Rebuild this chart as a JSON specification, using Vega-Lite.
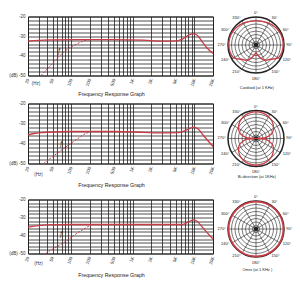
{
 "$schema": "https://vega.github.io/schema/vega-lite/v6.json",
 "padding": {"left": 5, "top": 10.5, "right": 0, "bottom": 0},
 "autosize": {"type": "pad"},
 "background": "white",
 "config": {
   "font": "Liberation Sans",
   "view": {"stroke": "#222", "strokeWidth": 1},
   "axis": {"labelFont": "Liberation Sans", "labelColor": "#333", "labelFontSize": 4.5, "grid": true, "gridColor": "#222", "gridOpacity": 1, "gridWidth": 0.8, "ticks": false, "domain": false, "labelOverlap": false, "labelFlush": false, "labelBound": false},
   "text": {"font": "Liberation Sans", "color": "#222"}
 },
 "datasets": {
   "resp": [
     {"row":1,"kind":"solid","f":20,"db":-32.6},{"row":1,"kind":"solid","f":25,"db":-32.3},{"row":1,"kind":"solid","f":35,"db":-32.0},{"row":1,"kind":"solid","f":50,"db":-31.9},{"row":1,"kind":"solid","f":100,"db":-31.8},{"row":1,"kind":"solid","f":500,"db":-31.8},{"row":1,"kind":"solid","f":1500,"db":-32.0},{"row":1,"kind":"solid","f":2800,"db":-32.5},{"row":1,"kind":"solid","f":4600,"db":-32.5},{"row":1,"kind":"solid","f":6400,"db":-31.5},{"row":1,"kind":"solid","f":8100,"db":-29.4},{"row":1,"kind":"solid","f":9700,"db":-28.8},{"row":1,"kind":"solid","f":11200,"db":-29.6},{"row":1,"kind":"solid","f":13500,"db":-33},{"row":1,"kind":"solid","f":16000,"db":-36},{"row":1,"kind":"solid","f":20000,"db":-38.8},
     {"row":1,"kind":"dash","f":32.5,"db":-50},{"row":1,"kind":"dash","f":41,"db":-46.7},{"row":1,"kind":"dash","f":53,"db":-43},{"row":1,"kind":"dash","f":64,"db":-40.3},{"row":1,"kind":"dash","f":77,"db":-37.9},{"row":1,"kind":"dash","f":99,"db":-35.6},{"row":1,"kind":"dash","f":127,"db":-33.8},{"row":1,"kind":"dash","f":162,"db":-32.4},{"row":1,"kind":"dash","f":197,"db":-31.8},
     {"row":2,"kind":"solid","f":20,"db":-35.7},{"row":2,"kind":"solid","f":25,"db":-35.0},{"row":2,"kind":"solid","f":35,"db":-34.5},{"row":2,"kind":"solid","f":60,"db":-34.2},{"row":2,"kind":"solid","f":100,"db":-34.0},{"row":2,"kind":"solid","f":500,"db":-34.0},{"row":2,"kind":"solid","f":1500,"db":-34.4},{"row":2,"kind":"solid","f":3000,"db":-34.7},{"row":2,"kind":"solid","f":5500,"db":-34.6},{"row":2,"kind":"solid","f":7500,"db":-33.2},{"row":2,"kind":"solid","f":9700,"db":-31.8},{"row":2,"kind":"solid","f":11500,"db":-32.8},{"row":2,"kind":"solid","f":14000,"db":-36},{"row":2,"kind":"solid","f":20000,"db":-41.5},
     {"row":2,"kind":"dash","f":36,"db":-50},{"row":2,"kind":"dash","f":46,"db":-47.5},{"row":2,"kind":"dash","f":63,"db":-44.3},{"row":2,"kind":"dash","f":86,"db":-41.3},{"row":2,"kind":"dash","f":125,"db":-37.8},{"row":2,"kind":"dash","f":160,"db":-35.5},{"row":2,"kind":"dash","f":200,"db":-34.2},
     {"row":3,"kind":"solid","f":20,"db":-35.4},{"row":3,"kind":"solid","f":25,"db":-34.8},{"row":3,"kind":"solid","f":40,"db":-34.1},{"row":3,"kind":"solid","f":100,"db":-33.9},{"row":3,"kind":"solid","f":1000,"db":-33.9},{"row":3,"kind":"solid","f":6400,"db":-33.9},{"row":3,"kind":"solid","f":8100,"db":-32.3},{"row":3,"kind":"solid","f":9700,"db":-31.3},{"row":3,"kind":"solid","f":11200,"db":-32.2},{"row":3,"kind":"solid","f":13500,"db":-35.5},{"row":3,"kind":"solid","f":20000,"db":-42},
     {"row":3,"kind":"dash","f":39,"db":-50},{"row":3,"kind":"dash","f":46,"db":-48.3},{"row":3,"kind":"dash","f":63,"db":-45.6},{"row":3,"kind":"dash","f":86,"db":-42.8},{"row":3,"kind":"dash","f":125,"db":-38.7},{"row":3,"kind":"dash","f":175,"db":-35.7},{"row":3,"kind":"dash","f":210,"db":-34.1}
   ],
   "notes": [
     {"row":1,"f":64,"db":-37.3,"t":"ƒ"},{"row":1,"f":27,"db":-54.5,"t":"(Hz)"},
     {"row":2,"f":68.5,"db":-40.2,"t":"ƒ"},{"row":2,"f":29.6,"db":-55.7,"t":"(Hz)"},
     {"row":3,"f":68.5,"db":-39.1,"t":"ƒ"},{"row":3,"f":29.6,"db":-56.1,"t":"(Hz)"}
   ],
   "rings": [{"r":0.125},{"r":0.25},{"r":0.375},{"r":0.5},{"r":0.625},{"r":0.75},{"r":0.875}],
   "spokes": [{"x":0,"y":1,"x2":0,"y2":-1},{"x":0.5,"y":0.866,"x2":-0.5,"y2":-0.866},{"x":0.866,"y":0.5,"x2":-0.866,"y2":-0.5},{"x":1,"y":0,"x2":-1,"y2":0},{"x":0.866,"y":-0.5,"x2":-0.866,"y2":0.5},{"x":0.5,"y":-0.866,"x2":-0.5,"y2":0.866}],
   "angles": [{"x":0,"y":1.13,"t":"0°"},{"x":0.55,"y":0.953,"t":"30°"},{"x":0.953,"y":0.55,"t":"60°"},{"x":1.08,"y":0,"t":"90°"},{"x":0.953,"y":-0.55,"t":"120°"},{"x":0.55,"y":-0.953,"t":"150°"},{"x":0,"y":-1.2,"t":"180°"},{"x":-0.55,"y":-0.953,"t":"210°"},{"x":-0.953,"y":-0.55,"t":"240°"},{"x":-1.08,"y":0,"t":"270°"},{"x":-0.953,"y":0.55,"t":"300°"},{"x":-0.55,"y":0.953,"t":"330°"}],
   "polar": [
     {"p":"card","i":0,"x":0,"y":0.86},{"p":"card","i":1,"x":0.225,"y":0.84},{"p":"card","i":2,"x":0.45,"y":0.779},{"p":"card","i":3,"x":0.658,"y":0.658},{"p":"card","i":4,"x":0.831,"y":0.48},{"p":"card","i":5,"x":0.937,"y":0.251},{"p":"card","i":6,"x":0.97,"y":0},{"p":"card","i":7,"x":0.927,"y":-0.248},{"p":"card","i":8,"x":0.797,"y":-0.46},{"p":"card","i":9,"x":0.509,"y":-0.509},{"p":"card","i":10,"x":0.315,"y":-0.546},{"p":"card","i":11,"x":0.171,"y":-0.47},{"p":"card","i":12,"x":0.0625,"y":-0.355},{"p":"card","i":13,"x":0,"y":-0.28},{"p":"card","i":14,"x":-0.0625,"y":-0.355},{"p":"card","i":15,"x":-0.171,"y":-0.47},{"p":"card","i":16,"x":-0.315,"y":-0.546},{"p":"card","i":17,"x":-0.509,"y":-0.509},{"p":"card","i":18,"x":-0.797,"y":-0.46},{"p":"card","i":19,"x":-0.927,"y":-0.248},{"p":"card","i":20,"x":-0.97,"y":0},{"p":"card","i":21,"x":-0.937,"y":0.251},{"p":"card","i":22,"x":-0.831,"y":0.48},{"p":"card","i":23,"x":-0.658,"y":0.658},{"p":"card","i":24,"x":-0.45,"y":0.779},{"p":"card","i":25,"x":-0.225,"y":0.84},
     {"p":"bi","i":0,"x":0,"y":0.95},{"p":"bi","i":1,"x":0.243,"y":0.908},{"p":"bi","i":2,"x":0.45,"y":0.779},{"p":"bi","i":3,"x":0.587,"y":0.587},{"p":"bi","i":4,"x":0.624,"y":0.36},{"p":"bi","i":5,"x":0.583,"y":0.212},{"p":"bi","i":6,"x":0.443,"y":0.078},{"p":"bi","i":7,"x":0.299,"y":0.026},{"p":"bi","i":8,"x":0,"y":0},{"p":"bi","i":9,"x":0.299,"y":-0.026},{"p":"bi","i":10,"x":0.443,"y":-0.078},{"p":"bi","i":11,"x":0.583,"y":-0.212},{"p":"bi","i":12,"x":0.624,"y":-0.36},{"p":"bi","i":13,"x":0.587,"y":-0.587},{"p":"bi","i":14,"x":0.45,"y":-0.779},{"p":"bi","i":15,"x":0.243,"y":-0.908},{"p":"bi","i":16,"x":0,"y":-0.95},{"p":"bi","i":17,"x":-0.243,"y":-0.908},{"p":"bi","i":18,"x":-0.45,"y":-0.779},{"p":"bi","i":19,"x":-0.587,"y":-0.587},{"p":"bi","i":20,"x":-0.624,"y":-0.36},{"p":"bi","i":21,"x":-0.583,"y":-0.212},{"p":"bi","i":22,"x":-0.443,"y":-0.078},{"p":"bi","i":23,"x":-0.299,"y":-0.026},{"p":"bi","i":24,"x":0,"y":0},{"p":"bi","i":25,"x":-0.299,"y":0.026},{"p":"bi","i":26,"x":-0.443,"y":0.078},{"p":"bi","i":27,"x":-0.583,"y":0.212},{"p":"bi","i":28,"x":-0.624,"y":0.36},{"p":"bi","i":29,"x":-0.587,"y":0.587},{"p":"bi","i":30,"x":-0.45,"y":0.779},{"p":"bi","i":31,"x":-0.243,"y":0.908}
   ]
 },
 "columns": 2,
 "spacing": {"row": 28, "column": 5},
 "bounds": "flush",
 "align": "each",
 "resolve": {"scale": {"radius": "independent", "x": "independent", "y": "independent"}},
 "concat": [
    {"width": 185, "height": 59,
     "encoding": {
      "x": {"field":"f","type":"quantitative","scale":{"type":"log","domain":[20,20000],"nice":false},
        "axis":{"values":[20,30,40,50,60,70,80,90,100,200,300,400,500,600,700,800,900,1000,2000,3000,4000,5000,6000,7000,8000,9000,10000,20000],"labelExpr":"indexof([20,50,100,200,500,1000,2000,5000,10000,20000], datum.value) >= 0 ? (datum.value >= 1000 ? (datum.value / 1000) + 'K' : datum.value + '') : ''","labelAngle":-70,"labelAlign":"right","labelBaseline":"middle","labelPadding":3,"title":"Frequency Response Graph","titleFontSize":5.3,"titleFontWeight":"normal","titleColor":"#222","titleX":83,"titleY":18,"titleAlign":"center","titleBaseline":"middle"}},
      "y": {"field":"db","type":"quantitative","scale":{"domain":[-50,-20],"nice":false,"zero":false},
        "axis":{"values":[-50,-48,-46,-44,-42,-40,-38,-36,-34,-32,-30,-28,-26,-24,-22,-20],"labelExpr":"datum.value % 10 == 0 ? (datum.value == -50 ? '(dB)   -50' : datum.value + '') : ''","labelPadding":3,"title":null}}
     },
     "layer": [
      {"data":{"name":"resp"},"transform":[{"filter":"datum.row == 1 && datum.kind == 'solid'"}],"mark":{"type":"line","color":"#c83c46","strokeWidth":1.3,"interpolate":"monotone"}},
      {"data":{"name":"resp"},"transform":[{"filter":"datum.row == 1 && datum.kind == 'dash'"}],"mark":{"type":"line","color":"#c83c46","strokeWidth":1,"strokeDash":[2,1.5],"interpolate":"monotone"}},
      {"data":{"name":"notes"},"transform":[{"filter":"datum.row == 1 && datum.t == 'ƒ'"}],"mark":{"type":"text","fontSize":6.5,"fontStyle":"italic","align":"center","baseline":"middle"},"encoding":{"text":{"field":"t"}}},
      {"data":{"name":"notes"},"transform":[{"filter":"datum.row == 1 && datum.t != 'ƒ'"}],"mark":{"type":"text","fontSize":4.5,"align":"center","baseline":"middle","color":"#333"},"encoding":{"text":{"field":"t"}}}
     ]},
    {"width": 76, "height": 59, "view": {"stroke": null},
     "layer": [
      {"data":{"name":"rings"},"mark":{"type":"arc","filled":false,"stroke":"#222","strokeWidth":0.6,"theta":0,"theta2":6.2832},"encoding":{"x":{"datum":0,"type":"quantitative","scale":{"domain":[-1.357,1.357],"nice":false,"zero":false},"axis":null},"y":{"datum":0,"type":"quantitative","scale":{"domain":[-1.089,1.018],"nice":false,"zero":false},"axis":null},"radius":{"field":"r","type":"quantitative","stack":null,"scale":{"type":"linear","domain":[0,1],"range":[0,28]}}}},
      {"data":{"values":[{"r":1}]},"mark":{"type":"arc","filled":false,"stroke":"#222","strokeWidth":1.5,"theta":0,"theta2":6.2832},"encoding":{"x":{"datum":0,"type":"quantitative","scale":{"domain":[-1.357,1.357],"nice":false,"zero":false},"axis":null},"y":{"datum":0,"type":"quantitative","scale":{"domain":[-1.089,1.018],"nice":false,"zero":false},"axis":null},"radius":{"field":"r","type":"quantitative","stack":null,"scale":{"type":"linear","domain":[0,1],"range":[0,28]}}}},
      {"data":{"name":"spokes"},"mark":{"type":"rule","stroke":"#222","strokeWidth":0.6},"encoding":{"x":{"field":"x","type":"quantitative","scale":{"domain":[-1.357,1.357],"nice":false,"zero":false},"axis":null},"y":{"field":"y","type":"quantitative","scale":{"domain":[-1.089,1.018],"nice":false,"zero":false},"axis":null},"x2":{"field":"x2"},"y2":{"field":"y2"}}},
      {"data":{"values":[{"r":0.08}]},"mark":{"type":"arc","color":"#222","theta":0,"theta2":6.2832},"encoding":{"x":{"datum":0,"type":"quantitative","scale":{"domain":[-1.357,1.357],"nice":false,"zero":false},"axis":null},"y":{"datum":0,"type":"quantitative","scale":{"domain":[-1.089,1.018],"nice":false,"zero":false},"axis":null},"radius":{"field":"r","type":"quantitative","stack":null,"scale":{"type":"linear","domain":[0,1],"range":[0,28]}}}},
      {"data":{"name":"polar"},"transform":[{"filter":"datum.p == 'card'"}],"mark":{"type":"line","color":"#c83c46","strokeWidth":1.3,"interpolate":"cardinal-closed"},"encoding":{"x":{"field":"x","type":"quantitative","scale":{"domain":[-1.357,1.357],"nice":false,"zero":false},"axis":null},"y":{"field":"y","type":"quantitative","scale":{"domain":[-1.089,1.018],"nice":false,"zero":false},"axis":null},"order":{"field":"i"}}},
      {"data":{"name":"angles"},"transform":[{"filter":"datum.x > 0.1"}],"mark":{"type":"text","fontSize":4,"align":"left","baseline":"middle"},"encoding":{"x":{"field":"x","type":"quantitative","scale":{"domain":[-1.357,1.357],"nice":false,"zero":false},"axis":null},"y":{"field":"y","type":"quantitative","scale":{"domain":[-1.089,1.018],"nice":false,"zero":false},"axis":null},"text":{"field":"t"}}},
      {"data":{"name":"angles"},"transform":[{"filter":"datum.x < -0.1"}],"mark":{"type":"text","fontSize":4,"align":"right","baseline":"middle"},"encoding":{"x":{"field":"x","type":"quantitative","scale":{"domain":[-1.357,1.357],"nice":false,"zero":false},"axis":null},"y":{"field":"y","type":"quantitative","scale":{"domain":[-1.089,1.018],"nice":false,"zero":false},"axis":null},"text":{"field":"t"}}},
      {"data":{"name":"angles"},"transform":[{"filter":"abs(datum.x) <= 0.1"}],"mark":{"type":"text","fontSize":4,"align":"center","baseline":"middle"},"encoding":{"x":{"field":"x","type":"quantitative","scale":{"domain":[-1.357,1.357],"nice":false,"zero":false},"axis":null},"y":{"field":"y","type":"quantitative","scale":{"domain":[-1.089,1.018],"nice":false,"zero":false},"axis":null},"text":{"field":"t"}}},
      {"data":{"values":[{"x":0.03,"y":-1.52,"t":"Cardioid (at 1 KHz)"}]},"mark":{"type":"text","fontSize":4,"align":"center","baseline":"middle"},"encoding":{"x":{"field":"x","type":"quantitative","scale":{"domain":[-1.357,1.357],"nice":false,"zero":false},"axis":null},"y":{"field":"y","type":"quantitative","scale":{"domain":[-1.089,1.018],"nice":false,"zero":false},"axis":null},"text":{"field":"t"}}}
     ]},
    {"width": 185, "height": 60,
     "encoding": {
      "x": {"field":"f","type":"quantitative","scale":{"type":"log","domain":[20,20000],"nice":false},
        "axis":{"values":[20,30,40,50,60,70,80,90,100,200,300,400,500,600,700,800,900,1000,2000,3000,4000,5000,6000,7000,8000,9000,10000,20000],"labelExpr":"indexof([20,50,100,200,500,1000,2000,5000,10000,20000], datum.value) >= 0 ? (datum.value >= 1000 ? (datum.value / 1000) + 'K' : datum.value + '') : ''","labelAngle":-70,"labelAlign":"right","labelBaseline":"middle","labelPadding":3,"title":"Frequency Response Graph","titleFontSize":5.3,"titleFontWeight":"normal","titleColor":"#222","titleX":83,"titleY":21,"titleAlign":"center","titleBaseline":"middle"}},
      "y": {"field":"db","type":"quantitative","scale":{"domain":[-50,-20],"nice":false,"zero":false},
        "axis":{"values":[-50,-48,-46,-44,-42,-40,-38,-36,-34,-32,-30,-28,-26,-24,-22,-20],"labelExpr":"datum.value % 10 == 0 ? (datum.value == -50 ? '(dB)   -50' : datum.value + '') : ''","labelPadding":3,"title":null}}
     },
     "layer": [
      {"data":{"name":"resp"},"transform":[{"filter":"datum.row == 2 && datum.kind == 'solid'"}],"mark":{"type":"line","color":"#c83c46","strokeWidth":1.3,"interpolate":"monotone"}},
      {"data":{"name":"resp"},"transform":[{"filter":"datum.row == 2 && datum.kind == 'dash'"}],"mark":{"type":"line","color":"#c83c46","strokeWidth":1,"strokeDash":[2,1.5],"interpolate":"monotone"}},
      {"data":{"name":"notes"},"transform":[{"filter":"datum.row == 2 && datum.t == 'ƒ'"}],"mark":{"type":"text","fontSize":6.5,"fontStyle":"italic","align":"center","baseline":"middle"},"encoding":{"text":{"field":"t"}}},
      {"data":{"name":"notes"},"transform":[{"filter":"datum.row == 2 && datum.t != 'ƒ'"}],"mark":{"type":"text","fontSize":4.5,"align":"center","baseline":"middle","color":"#333"},"encoding":{"text":{"field":"t"}}}
     ]},
    {"width": 76, "height": 68, "view": {"stroke": null},
     "layer": [
      {"data":{"name":"rings"},"mark":{"type":"arc","filled":false,"stroke":"#222","strokeWidth":0.6,"theta":0,"theta2":6.2832},"encoding":{"x":{"datum":0,"type":"quantitative","scale":{"domain":[-1.357,1.357],"nice":false,"zero":false},"axis":null},"y":{"datum":0,"type":"quantitative","scale":{"domain":[-1.179,1.25],"nice":false,"zero":false},"axis":null},"radius":{"field":"r","type":"quantitative","stack":null,"scale":{"type":"linear","domain":[0,1],"range":[0,28]}}}},
      {"data":{"values":[{"r":1}]},"mark":{"type":"arc","filled":false,"stroke":"#222","strokeWidth":1.5,"theta":0,"theta2":6.2832},"encoding":{"x":{"datum":0,"type":"quantitative","scale":{"domain":[-1.357,1.357],"nice":false,"zero":false},"axis":null},"y":{"datum":0,"type":"quantitative","scale":{"domain":[-1.179,1.25],"nice":false,"zero":false},"axis":null},"radius":{"field":"r","type":"quantitative","stack":null,"scale":{"type":"linear","domain":[0,1],"range":[0,28]}}}},
      {"data":{"name":"spokes"},"mark":{"type":"rule","stroke":"#222","strokeWidth":0.6},"encoding":{"x":{"field":"x","type":"quantitative","scale":{"domain":[-1.357,1.357],"nice":false,"zero":false},"axis":null},"y":{"field":"y","type":"quantitative","scale":{"domain":[-1.179,1.25],"nice":false,"zero":false},"axis":null},"x2":{"field":"x2"},"y2":{"field":"y2"}}},
      {"data":{"values":[{"r":0.08}]},"mark":{"type":"arc","color":"#222","theta":0,"theta2":6.2832},"encoding":{"x":{"datum":0,"type":"quantitative","scale":{"domain":[-1.357,1.357],"nice":false,"zero":false},"axis":null},"y":{"datum":0,"type":"quantitative","scale":{"domain":[-1.179,1.25],"nice":false,"zero":false},"axis":null},"radius":{"field":"r","type":"quantitative","stack":null,"scale":{"type":"linear","domain":[0,1],"range":[0,28]}}}},
      {"data":{"name":"polar"},"transform":[{"filter":"datum.p == 'bi'"}],"mark":{"type":"line","color":"#c83c46","strokeWidth":1.3,"interpolate":"cardinal-closed"},"encoding":{"x":{"field":"x","type":"quantitative","scale":{"domain":[-1.357,1.357],"nice":false,"zero":false},"axis":null},"y":{"field":"y","type":"quantitative","scale":{"domain":[-1.179,1.25],"nice":false,"zero":false},"axis":null},"order":{"field":"i"}}},
      {"data":{"name":"angles"},"transform":[{"filter":"datum.x > 0.1"}],"mark":{"type":"text","fontSize":4,"align":"left","baseline":"middle"},"encoding":{"x":{"field":"x","type":"quantitative","scale":{"domain":[-1.357,1.357],"nice":false,"zero":false},"axis":null},"y":{"field":"y","type":"quantitative","scale":{"domain":[-1.179,1.25],"nice":false,"zero":false},"axis":null},"text":{"field":"t"}}},
      {"data":{"name":"angles"},"transform":[{"filter":"datum.x < -0.1"}],"mark":{"type":"text","fontSize":4,"align":"right","baseline":"middle"},"encoding":{"x":{"field":"x","type":"quantitative","scale":{"domain":[-1.357,1.357],"nice":false,"zero":false},"axis":null},"y":{"field":"y","type":"quantitative","scale":{"domain":[-1.179,1.25],"nice":false,"zero":false},"axis":null},"text":{"field":"t"}}},
      {"data":{"name":"angles"},"transform":[{"filter":"abs(datum.x) <= 0.1"}],"mark":{"type":"text","fontSize":4,"align":"center","baseline":"middle"},"encoding":{"x":{"field":"x","type":"quantitative","scale":{"domain":[-1.357,1.357],"nice":false,"zero":false},"axis":null},"y":{"field":"y","type":"quantitative","scale":{"domain":[-1.179,1.25],"nice":false,"zero":false},"axis":null},"text":{"field":"t"}}},
      {"data":{"values":[{"x":0.03,"y":-1.36,"t":"Bi-direction (at 1KHz)"}]},"mark":{"type":"text","fontSize":4,"align":"center","baseline":"middle"},"encoding":{"x":{"field":"x","type":"quantitative","scale":{"domain":[-1.357,1.357],"nice":false,"zero":false},"axis":null},"y":{"field":"y","type":"quantitative","scale":{"domain":[-1.179,1.25],"nice":false,"zero":false},"axis":null},"text":{"field":"t"}}}
     ]},
    {"width": 185, "height": 54,
     "encoding": {
      "x": {"field":"f","type":"quantitative","scale":{"type":"log","domain":[20,20000],"nice":false},
        "axis":{"values":[20,30,40,50,60,70,80,90,100,200,300,400,500,600,700,800,900,1000,2000,3000,4000,5000,6000,7000,8000,9000,10000,20000],"labelExpr":"indexof([20,50,100,200,500,1000,2000,5000,10000,20000], datum.value) >= 0 ? (datum.value >= 1000 ? (datum.value / 1000) + 'K' : datum.value + '') : ''","labelAngle":-70,"labelAlign":"right","labelBaseline":"middle","labelPadding":3,"title":"Frequency Response Graph","titleFontSize":5.3,"titleFontWeight":"normal","titleColor":"#222","titleX":83,"titleY":21,"titleAlign":"center","titleBaseline":"middle"}},
      "y": {"field":"db","type":"quantitative","scale":{"domain":[-50,-20],"nice":false,"zero":false},
        "axis":{"values":[-50,-48,-46,-44,-42,-40,-38,-36,-34,-32,-30,-28,-26,-24,-22,-20],"labelExpr":"datum.value % 10 == 0 ? (datum.value == -50 ? '(dB)   -50' : datum.value + '') : ''","labelPadding":3,"title":null}}
     },
     "layer": [
      {"data":{"name":"resp"},"transform":[{"filter":"datum.row == 3 && datum.kind == 'solid'"}],"mark":{"type":"line","color":"#c83c46","strokeWidth":1.3,"interpolate":"monotone"}},
      {"data":{"name":"resp"},"transform":[{"filter":"datum.row == 3 && datum.kind == 'dash'"}],"mark":{"type":"line","color":"#c83c46","strokeWidth":1,"strokeDash":[2,1.5],"interpolate":"monotone"}},
      {"data":{"name":"notes"},"transform":[{"filter":"datum.row == 3 && datum.t == 'ƒ'"}],"mark":{"type":"text","fontSize":6.5,"fontStyle":"italic","align":"center","baseline":"middle"},"encoding":{"text":{"field":"t"}}},
      {"data":{"name":"notes"},"transform":[{"filter":"datum.row == 3 && datum.t != 'ƒ'"}],"mark":{"type":"text","fontSize":4.5,"align":"center","baseline":"middle","color":"#333"},"encoding":{"text":{"field":"t"}}}
     ]},
    {"width": 76, "height": 54, "view": {"stroke": null},
     "layer": [
      {"data":{"name":"rings"},"mark":{"type":"arc","filled":false,"stroke":"#222","strokeWidth":0.6,"theta":0,"theta2":6.2832},"encoding":{"x":{"datum":0,"type":"quantitative","scale":{"domain":[-1.357,1.357],"nice":false,"zero":false},"axis":null},"y":{"datum":0,"type":"quantitative","scale":{"domain":[-0.875,1.054],"nice":false,"zero":false},"axis":null},"radius":{"field":"r","type":"quantitative","stack":null,"scale":{"type":"linear","domain":[0,1],"range":[0,28]}}}},
      {"data":{"values":[{"r":1}]},"mark":{"type":"arc","filled":false,"stroke":"#222","strokeWidth":1.5,"theta":0,"theta2":6.2832},"encoding":{"x":{"datum":0,"type":"quantitative","scale":{"domain":[-1.357,1.357],"nice":false,"zero":false},"axis":null},"y":{"datum":0,"type":"quantitative","scale":{"domain":[-0.875,1.054],"nice":false,"zero":false},"axis":null},"radius":{"field":"r","type":"quantitative","stack":null,"scale":{"type":"linear","domain":[0,1],"range":[0,28]}}}},
      {"data":{"name":"spokes"},"mark":{"type":"rule","stroke":"#222","strokeWidth":0.6},"encoding":{"x":{"field":"x","type":"quantitative","scale":{"domain":[-1.357,1.357],"nice":false,"zero":false},"axis":null},"y":{"field":"y","type":"quantitative","scale":{"domain":[-0.875,1.054],"nice":false,"zero":false},"axis":null},"x2":{"field":"x2"},"y2":{"field":"y2"}}},
      {"data":{"values":[{"r":0.08}]},"mark":{"type":"arc","color":"#222","theta":0,"theta2":6.2832},"encoding":{"x":{"datum":0,"type":"quantitative","scale":{"domain":[-1.357,1.357],"nice":false,"zero":false},"axis":null},"y":{"datum":0,"type":"quantitative","scale":{"domain":[-0.875,1.054],"nice":false,"zero":false},"axis":null},"radius":{"field":"r","type":"quantitative","stack":null,"scale":{"type":"linear","domain":[0,1],"range":[0,28]}}}},
      {"data":{"values":[{"r":0.98}]},"mark":{"type":"arc","filled":false,"stroke":"#c83c46","strokeWidth":1.8,"theta":0,"theta2":6.2832},"encoding":{"x":{"datum":0,"type":"quantitative","scale":{"domain":[-1.357,1.357],"nice":false,"zero":false},"axis":null},"y":{"datum":0,"type":"quantitative","scale":{"domain":[-0.875,1.054],"nice":false,"zero":false},"axis":null},"radius":{"field":"r","type":"quantitative","stack":null,"scale":{"type":"linear","domain":[0,1],"range":[0,28]}}}},
      {"data":{"name":"angles"},"transform":[{"filter":"datum.x > 0.1"}],"mark":{"type":"text","fontSize":4,"align":"left","baseline":"middle"},"encoding":{"x":{"field":"x","type":"quantitative","scale":{"domain":[-1.357,1.357],"nice":false,"zero":false},"axis":null},"y":{"field":"y","type":"quantitative","scale":{"domain":[-0.875,1.054],"nice":false,"zero":false},"axis":null},"text":{"field":"t"}}},
      {"data":{"name":"angles"},"transform":[{"filter":"datum.x < -0.1"}],"mark":{"type":"text","fontSize":4,"align":"right","baseline":"middle"},"encoding":{"x":{"field":"x","type":"quantitative","scale":{"domain":[-1.357,1.357],"nice":false,"zero":false},"axis":null},"y":{"field":"y","type":"quantitative","scale":{"domain":[-0.875,1.054],"nice":false,"zero":false},"axis":null},"text":{"field":"t"}}},
      {"data":{"name":"angles"},"transform":[{"filter":"abs(datum.x) <= 0.1"}],"mark":{"type":"text","fontSize":4,"align":"center","baseline":"middle"},"encoding":{"x":{"field":"x","type":"quantitative","scale":{"domain":[-1.357,1.357],"nice":false,"zero":false},"axis":null},"y":{"field":"y","type":"quantitative","scale":{"domain":[-0.875,1.054],"nice":false,"zero":false},"axis":null},"text":{"field":"t"}}},
      {"data":{"values":[{"x":0.05,"y":-1.48,"t":"Omni   (at 1 KHz )"}]},"mark":{"type":"text","fontSize":4,"align":"center","baseline":"middle"},"encoding":{"x":{"field":"x","type":"quantitative","scale":{"domain":[-1.357,1.357],"nice":false,"zero":false},"axis":null},"y":{"field":"y","type":"quantitative","scale":{"domain":[-0.875,1.054],"nice":false,"zero":false},"axis":null},"text":{"field":"t"}}}
     ]}
 ]
}
